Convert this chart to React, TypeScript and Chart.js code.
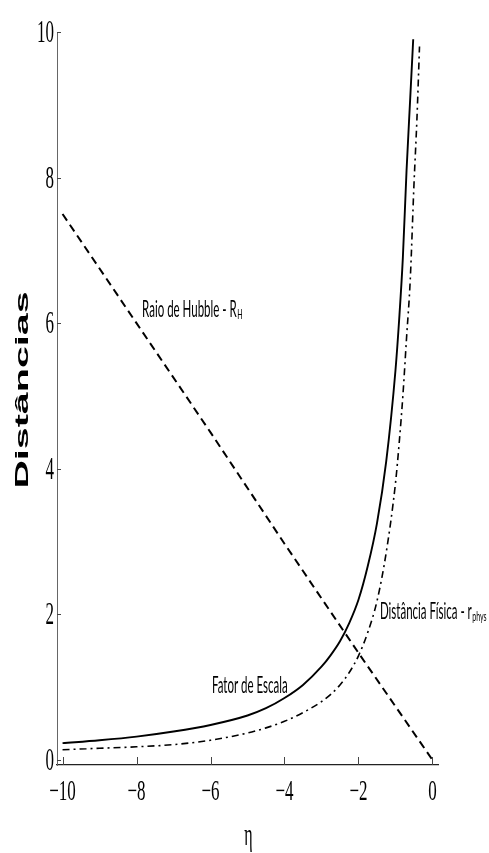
import React, { useEffect, useRef } from "react";
import { Chart, registerables } from "chart.js";

Chart.register(...registerables);

// Fator de Escala (solid)
const etaFator = [-10, -9, -8, -7, -6, -5, -4.5, -4, -3.5, -3, -2.75, -2.5, -2.25, -2, -1.75, -1.5, -1.25, -1.0, -0.9, -0.8, -0.7, -0.6, -0.52];
const fatorEscala = [0.23, 0.27, 0.32, 0.39, 0.48, 0.61, 0.71, 0.85, 1.03, 1.28, 1.44, 1.63, 1.88, 2.2, 2.66, 3.25, 4.1, 5.35, 6.05, 6.9, 8.1, 9.1, 9.9];

// Distância Física - r_phys (dash-dot)
const etaFisica = [-10, -9, -8, -7, -6, -5, -4.5, -4, -3.5, -3, -2.75, -2.5, -2.25, -2, -1.75, -1.5, -1.25, -1.0, -0.9, -0.8, -0.7, -0.6, -0.5, -0.42, -0.35];
const distFisica = [0.14, 0.16, 0.18, 0.21, 0.27, 0.37, 0.44, 0.53, 0.65, 0.8, 0.9, 1.03, 1.2, 1.43, 1.75, 2.18, 2.85, 3.8, 4.35, 5.0, 5.8, 6.6, 7.9, 8.8, 9.8];

// Raio de Hubble - R_H (dashed)
const etaHubble = [-10, -8, -6, -4, -2, 0];
const raioHubble = [7.5, 6.0, 4.5, 2.97, 1.47, 0];

const xTickValues = [-10, -8, -6, -4, -2, 0];
const xTickLabels = ["\u221210", "\u22128", "\u22126", "\u22124", "\u22122", "0"];
const yTickValues = [0, 2, 4, 6, 8, 10];
const yTickLabels = ["0", "2", "4", "6", "8", "10"];

const yTitle = "Dist\u00e2ncias";
const xTitle = "\u03b7";
const labelHubble = "Raio de Hubble - R";
const subHubble = "H";
const labelFator = "Fator de Escala";
const labelFisica = "Dist\u00e2ncia F\u00edsica - r";
const subFisica = "phys";

const toPoints = (xs: number[], ys: number[]) => xs.map((x, i) => ({ x, y: ys[i] }));

const textPlugin = {
  id: "textPlugin",
  afterDraw(chart: any) {
    const { ctx, chartArea } = chart;
    const xs = chart.scales.x;
    const ys = chart.scales.y;
    const draw = (
      text: string,
      px: number,
      py: number,
      font: string,
      sy: number,
      align: CanvasTextAlign = "left",
      sx = 1
    ) => {
      ctx.save();
      ctx.translate(px, py);
      ctx.scale(sx, sy);
      ctx.font = font;
      ctx.textAlign = align;
      ctx.textBaseline = "alphabetic";
      ctx.fillStyle = "#000";
      ctx.fillText(text, 0, 0);
      const w = ctx.measureText(text).width * sx;
      ctx.restore();
      return w;
    };

    // tick marks
    ctx.save();
    ctx.strokeStyle = "#444";
    ctx.lineWidth = 1;
    yTickValues.forEach((v) => {
      const py = Math.round(ys.getPixelForValue(v)) + 0.5;
      ctx.beginPath();
      ctx.moveTo(chartArea.left, py);
      ctx.lineTo(chartArea.left + 4, py);
      ctx.stroke();
    });
    xTickValues.forEach((v) => {
      const px = Math.round(xs.getPixelForValue(v)) + 0.5;
      ctx.beginPath();
      ctx.moveTo(px, chartArea.bottom);
      ctx.lineTo(px, chartArea.bottom - 8);
      ctx.stroke();
    });
    ctx.restore();

    const tickFont = '17px "Liberation Serif"';
    // y tick labels
    yTickValues.forEach((v, i) => {
      const py = ys.getPixelForValue(v);
      draw(yTickLabels[i], chartArea.left - 3, py + 10, tickFont, 1.85, "right");
    });
    // x tick labels
    xTickValues.forEach((v, i) => {
      const px = xs.getPixelForValue(v);
      draw(xTickLabels[i], px, 800, tickFont, 1.7, "center");
    });

    // axis titles
    ctx.save();
    ctx.translate(28, 390);
    ctx.rotate(-Math.PI / 2);
    ctx.scale(2.19, 1);
    ctx.font = 'bold 18px "Liberation Sans"';
    ctx.textAlign = "center";
    ctx.textBaseline = "alphabetic";
    ctx.fillStyle = "#000";
    ctx.fillText(yTitle, 0, 0);
    ctx.restore();

    draw(xTitle, (chartArea.left + chartArea.right) / 2 + 1, 845, '16px "Liberation Serif"', 2, "center");

    // curve labels
    const lf = '11.5px Lato';
    const sf = '7px Lato';
    let w = draw(labelHubble, xs.getPixelForValue(-7.85), ys.getPixelForValue(6.08), lf, 2);
    draw(subHubble, xs.getPixelForValue(-7.85) + w + 0.5, ys.getPixelForValue(6.08) + 2, sf, 1.8);
    draw(labelFator, xs.getPixelForValue(-5.96), ys.getPixelForValue(0.92), lf, 2);
    w = draw(labelFisica, xs.getPixelForValue(-1.42), ys.getPixelForValue(1.94), lf, 2);
    draw(subFisica, xs.getPixelForValue(-1.42) + w + 0.5, ys.getPixelForValue(1.94) + 2, sf, 1.8);
  },
};

export default function App() {
  const ref = useRef<HTMLCanvasElement>(null);
  useEffect(() => {
    const chart = new Chart(ref.current as HTMLCanvasElement, {
      type: "line",
      data: {
        datasets: [
          {
            label: labelFator,
            data: toPoints(etaFator, fatorEscala),
            borderColor: "#000",
            borderWidth: 1.9,
            pointRadius: 0,
            cubicInterpolationMode: "monotone",
            fill: false,
          },
          {
            label: labelFisica + subFisica,
            data: toPoints(etaFisica, distFisica),
            borderColor: "#000",
            borderWidth: 1.6,
            borderDash: [7, 4, 2, 4],
            pointRadius: 0,
            cubicInterpolationMode: "monotone",
            fill: false,
          },
          {
            label: labelHubble + subHubble,
            data: toPoints(etaHubble, raioHubble),
            borderColor: "#000",
            borderWidth: 2,
            borderDash: [8, 5],
            pointRadius: 0,
            tension: 0,
            fill: false,
          },
        ],
      },
      options: {
        responsive: false,
        animation: false,
        devicePixelRatio: 1,
        layout: { padding: { left: 57, right: 51, top: 32, bottom: 88 } },
        plugins: {
          legend: { display: false },
          tooltip: { enabled: false },
        },
        scales: {
          x: {
            type: "linear",
            min: -10.15,
            max: 0.15,
            grid: { display: false, drawTicks: false },
            ticks: { display: false },
            border: { display: true, color: "#222", width: 1.2, dash: [9, 3] },
          },
          y: {
            type: "linear",
            min: -0.07,
            max: 10,
            grid: { display: false, drawTicks: false },
            ticks: { display: false },
            border: { display: true, color: "#666", width: 1, dash: [7, 3, 1, 3] },
          },
        },
      },
      plugins: [textPlugin],
    } as any);
    return () => chart.destroy();
  }, []);
  return (
    <div style={{ position: "absolute", left: 0, top: 0, width: 489, height: 853, background: "#fff" }}>
      <canvas ref={ref} width={489} height={853} style={{ display: "block", width: 489, height: 853 }} />
    </div>
  );
}
